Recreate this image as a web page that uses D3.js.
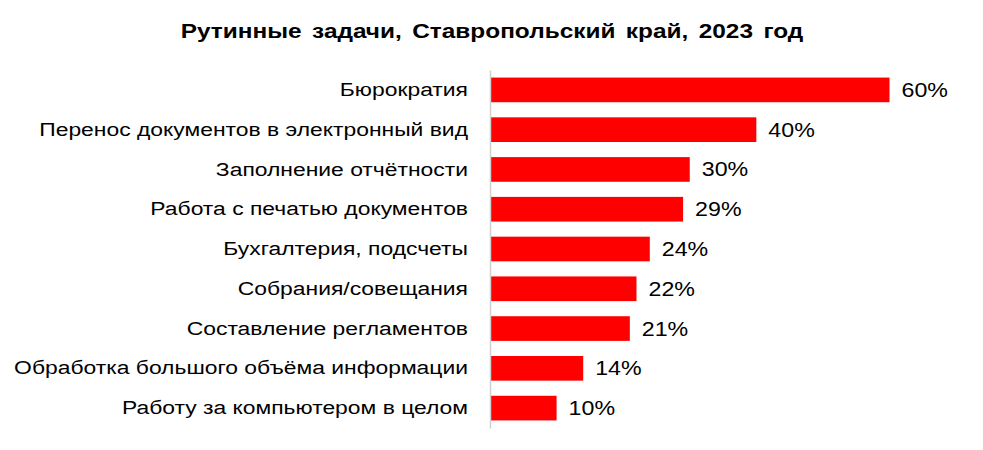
<!DOCTYPE html>
<html>
<head>
<meta charset="utf-8">
<script src="https://cdn.jsdelivr.net/npm/d3@7"></script>
<style>
html,body{margin:0;padding:0;background:#fff;}
svg{display:block;}
text{font-family:"Liberation Sans",Arial,sans-serif;}
</style>
</head>
<body>
<svg id="chart" width="983" height="450"></svg>
<script>
const title = "Рутинные задачи, Ставропольский край, 2023 год";
const categories = [
  "Бюрократия",
  "Перенос документов в электронный вид",
  "Заполнение отчётности",
  "Работа с печатью документов",
  "Бухгалтерия, подсчеты",
  "Собрания/совещания",
  "Составление регламентов",
  "Обработка большого объёма информации",
  "Работу за компьютером в целом"
];
const values = [60, 40, 30, 29, 24, 22, 21, 14, 10];

const svg = d3.select("#chart");
const x0 = 490, plotTop = 70, plotBottom = 428;
const sx = 1.205;

const x = d3.scaleLinear().domain([0, 60]).range([x0, 889.5]);
const y = d3.scaleBand().domain(categories).range([plotTop, plotBottom]).paddingInner(0.38).paddingOuter(0.19);

svg.append("text")
  .attr("transform", "translate(492,38) scale(1.22,1)")
  .attr("text-anchor", "middle")
  .attr("font-size", 20).attr("font-weight", "bold")
  .attr("word-spacing", 3)
  .attr("fill", "#000")
  .text(title);

svg.selectAll("rect.bar").data(values).join("rect")
  .attr("class", "bar")
  .attr("x", x(0))
  .attr("y", (d, i) => y(categories[i]))
  .attr("width", d => x(d) - x(0))
  .attr("height", y.bandwidth())
  .attr("fill", "#ff0000");

const yAxis = d3.axisLeft(y).tickSize(0).tickPadding(0);
const g = svg.append("g").attr("transform", `translate(${x0},0)`).call(yAxis);
g.select(".domain").attr("stroke", "#d0d0d0").attr("stroke-width", 1.5);
g.selectAll(".tick text")
  .attr("x", 0)
  .attr("transform", `translate(-22,0) scale(${sx},1)`)
  .attr("font-size", 19).attr("fill", "#000")
  .style("font-family", "'Liberation Sans', Arial, sans-serif");

svg.selectAll("text.val").data(values).join("text")
  .attr("class", "val")
  .attr("transform", (d, i) => `translate(${x(d) + 12},${y(categories[i]) + y.bandwidth() / 2}) scale(1.19,1)`)
  .attr("dy", "0.36em")
  .attr("font-size", 19.5).attr("fill", "#000")
  .text(d => d + "%");
</script>
</body>
</html>
